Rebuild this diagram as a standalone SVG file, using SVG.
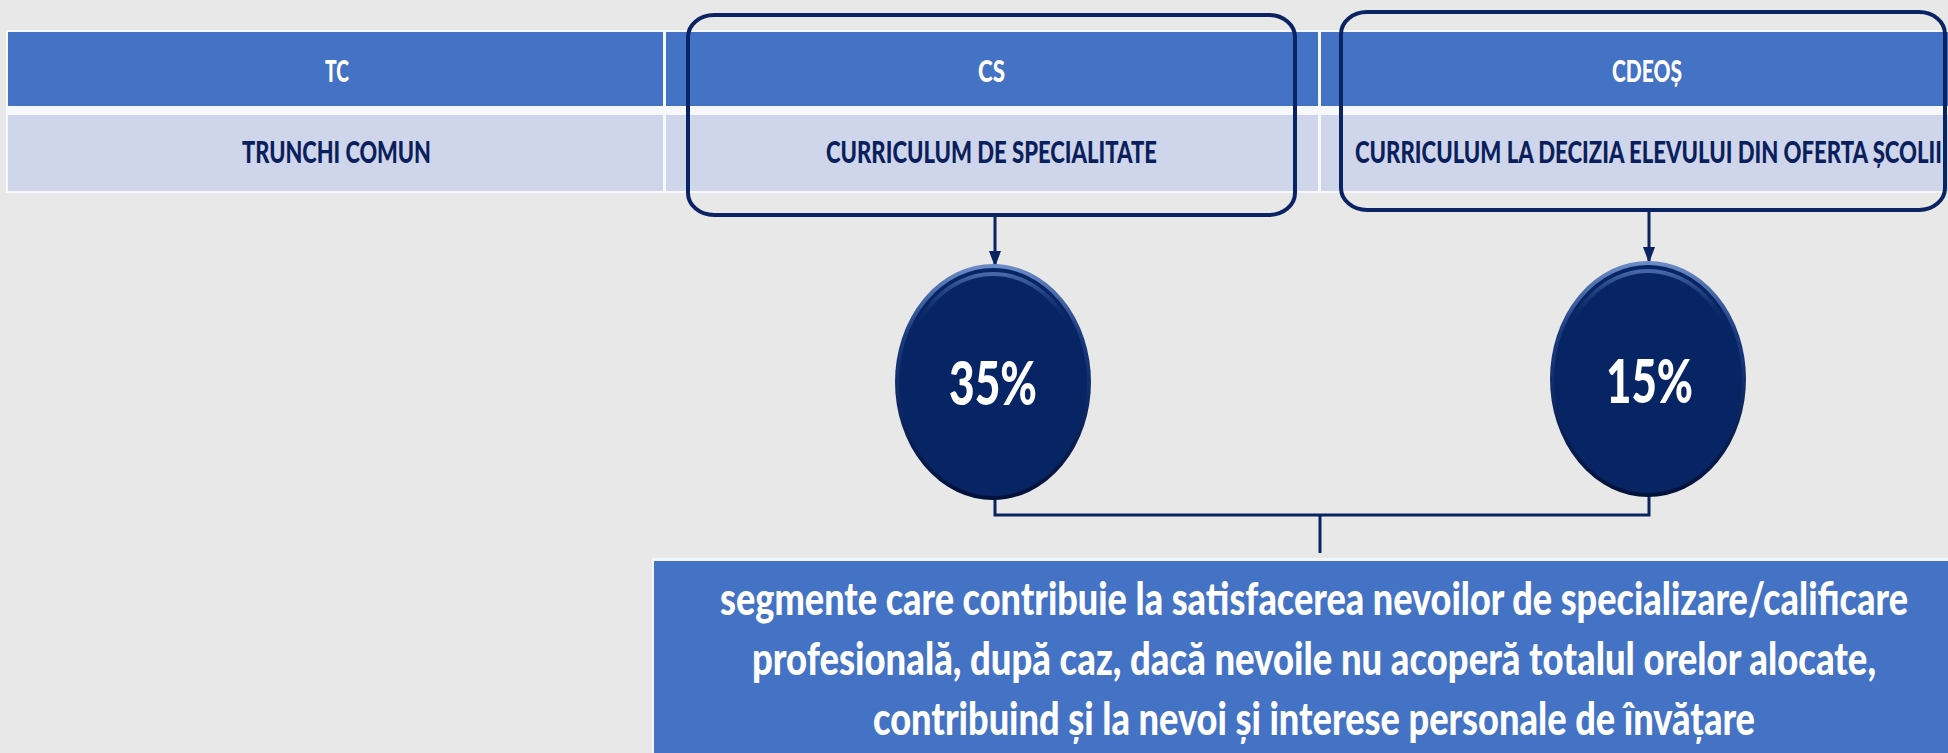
<svg xmlns="http://www.w3.org/2000/svg" width="1948" height="753" viewBox="0 0 1948 753">
  <defs>
    <style>
      .hdr { fill: #4472C4; }
      .sub { fill: #CFD5EA; }
      .th { font-family: Lato, "Liberation Sans", sans-serif; font-weight: 900; font-size: 30px; fill: #FFFFFF; text-anchor: middle; }
      .td { font-family: Lato, "Liberation Sans", sans-serif; font-weight: 900; font-size: 30px; fill: #0B1F5C; text-anchor: middle; }
      .hl { fill: none; stroke: #0A2362; stroke-width: 4; }
      .pct { font-family: Lato, "Liberation Sans", sans-serif; font-weight: 900; font-size: 60px; fill: #FFFFFF; text-anchor: middle; }
      .desc { font-family: Lato, "Liberation Sans", sans-serif; font-weight: 900; font-size: 46px; fill: #FFFFFF; text-anchor: middle; }
      .conn { fill: none; stroke: #0A2362; stroke-width: 3; }
    </style>
    <linearGradient id="rim" x1="0" y1="0" x2="0" y2="1">
      <stop offset="0" stop-color="#6A8BC6"/>
      <stop offset="0.3" stop-color="#1A3A80"/>
      <stop offset="1" stop-color="#01113A"/>
    </linearGradient>
    <linearGradient id="inner" x1="0" y1="0" x2="0" y2="1">
      <stop offset="0" stop-color="#4E70B0" stop-opacity="0.9"/>
      <stop offset="0.25" stop-color="#072565" stop-opacity="0"/>
      <stop offset="1" stop-color="#072565" stop-opacity="0"/>
    </linearGradient>
    <marker id="arr" viewBox="0 0 16 12" refX="16" refY="6" markerWidth="16" markerHeight="12" markerUnits="userSpaceOnUse" orient="auto">
      <path d="M0,0 L16,6 L0,12 Z" fill="#0A2362"/>
    </marker>
  </defs>

  <rect x="0" y="0" width="1948" height="753" fill="#E8E8E8"/>

  <!-- table background -->
  <rect x="6" y="30" width="1942" height="163" fill="#F7F8FC"/>

  <g id="tc">
    <rect class="hdr" x="8" y="32" width="655" height="74"/>
    <rect class="sub" x="8" y="115" width="655" height="76"/>
    <text class="th" x="337" y="82" textLength="24" lengthAdjust="spacingAndGlyphs">TC</text>
    <text class="td" x="336.5" y="163" textLength="189" lengthAdjust="spacingAndGlyphs">TRUNCHI COMUN</text>
  </g>

  <g id="cs">
    <rect class="hdr" x="666" y="32" width="652" height="74"/>
    <rect class="sub" x="666" y="115" width="652" height="76"/>
    <text class="th" x="991.5" y="82" textLength="27" lengthAdjust="spacingAndGlyphs">CS</text>
    <text class="td" x="991.5" y="163" textLength="331" lengthAdjust="spacingAndGlyphs">CURRICULUM DE SPECIALITATE</text>
    <rect class="hl" x="688" y="15" width="607" height="200" rx="26" ry="22"/>
  </g>

  <g id="cdeos">
    <rect class="hdr" x="1321" y="32" width="627" height="74"/>
    <rect class="sub" x="1321" y="115" width="627" height="76"/>
    <text class="th" x="1647" y="82" textLength="70" lengthAdjust="spacingAndGlyphs">CDEOȘ</text>
    <text class="td" x="1648.5" y="163" textLength="587" lengthAdjust="spacingAndGlyphs">CURRICULUM LA DECIZIA ELEVULUI DIN OFERTA ȘCOLII</text>
    <rect class="hl" x="1341" y="12" width="604" height="198" rx="26" ry="22"/>
  </g>

  <g id="connectors">
    <line class="conn" x1="995" y1="217" x2="995" y2="267" marker-end="url(#arr)"/>
    <line class="conn" x1="1649" y1="212" x2="1649" y2="263" marker-end="url(#arr)"/>
    <path class="conn" d="M995,497 L995,515 L1649,515 L1649,496"/>
    <line class="conn" x1="1320" y1="515" x2="1320" y2="553"/>
  </g>

  <g id="p35">
    <ellipse cx="993" cy="382" rx="96" ry="116" fill="#072565" stroke="url(#rim)" stroke-width="4"/>
    <ellipse cx="993" cy="384" rx="90" ry="110" fill="none" stroke="url(#inner)" stroke-width="4"/>
    <text class="pct" x="993" y="405" textLength="88" lengthAdjust="spacingAndGlyphs">35%</text>
  </g>

  <g id="p15">
    <ellipse cx="1648" cy="379" rx="96" ry="116" fill="#072565" stroke="url(#rim)" stroke-width="4"/>
    <ellipse cx="1648" cy="381" rx="90" ry="110" fill="none" stroke="url(#inner)" stroke-width="4"/>
    <text class="pct" x="1649.5" y="403" textLength="87" lengthAdjust="spacingAndGlyphs">15%</text>
  </g>

  <g id="desc">
    <rect x="652" y="558" width="1296" height="195" fill="#F4F6FB"/>
    <rect x="654" y="561" width="1294" height="192" fill="#4472C4"/>
    <text class="desc" x="1314" y="615" textLength="1188" lengthAdjust="spacingAndGlyphs">segmente care contribuie la satisfacerea nevoilor de specializare/calificare</text>
    <text class="desc" x="1314" y="675" textLength="1124" lengthAdjust="spacingAndGlyphs">profesională, după caz, dacă nevoile nu acoperă totalul orelor alocate,</text>
    <text class="desc" x="1314" y="735" textLength="882" lengthAdjust="spacingAndGlyphs">contribuind și la nevoi și interese personale de învățare</text>
  </g>
</svg>
